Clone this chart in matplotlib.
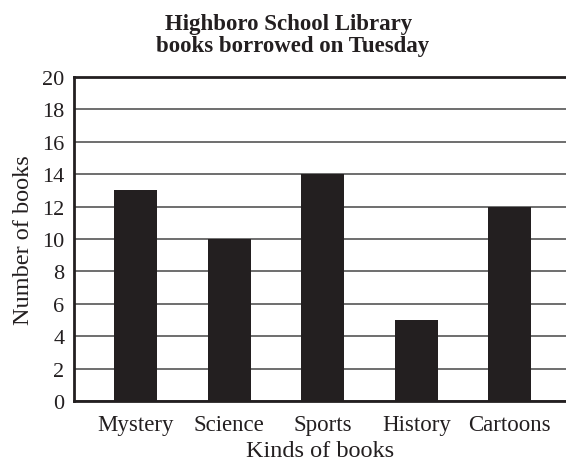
import matplotlib
matplotlib.use("Agg")
import matplotlib.pyplot as plt

categories = ["Mystery", "Science", "Sports", "History", "Cartoons"]
values = [13, 10, 14, 5, 12]
yticks = [0, 2, 4, 6, 8, 10, 12, 14, 16, 18, 20]

ink = "#231f20"
plt.rcParams["font.family"] = ["Liberation Serif", "DejaVu Serif"]

fig = plt.figure(figsize=(5.66, 4.64), dpi=100)
ax = fig.add_axes([0.1307, 0.1336, 1 - 0.1307, 0.6983])

x = list(range(len(categories)))
ax.bar(x, values, width=0.46, color=ink, zorder=3)

ax.set_ylim(0, 20)
ax.set_xlim(-0.66, 4.60)
ax.set_yticks(yticks)
ax.set_yticklabels([str(t) for t in yticks], fontsize=16, color=ink)
ax.set_xticks(x)
ax.set_xticklabels(categories, fontsize=16.5, color=ink)
ax.tick_params(axis="x", length=0, pad=9)
ax.tick_params(axis="y", length=0, pad=7)

ax.grid(axis="y", color="#555555", linewidth=1.2, zorder=1)
ax.set_axisbelow(True)

ax.spines["right"].set_visible(False)
for s in ["left", "bottom", "top"]:
    ax.spines[s].set_linewidth(2.0)
    ax.spines[s].set_color(ink)

ax.set_ylabel("Number of books", fontsize=17.5, color=ink, labelpad=6)
ax.set_xlabel("Kinds of books", fontsize=17.5, color=ink, labelpad=4)

fig.text(0.51, 0.948, "Highboro School Library", ha="center", va="center",
         fontsize=16.5, fontweight="bold", color=ink)
fig.text(0.517, 0.900, "books borrowed on Tuesday", ha="center", va="center",
         fontsize=16.5, fontweight="bold", color=ink)

fig.savefig("out.png", dpi=100)
